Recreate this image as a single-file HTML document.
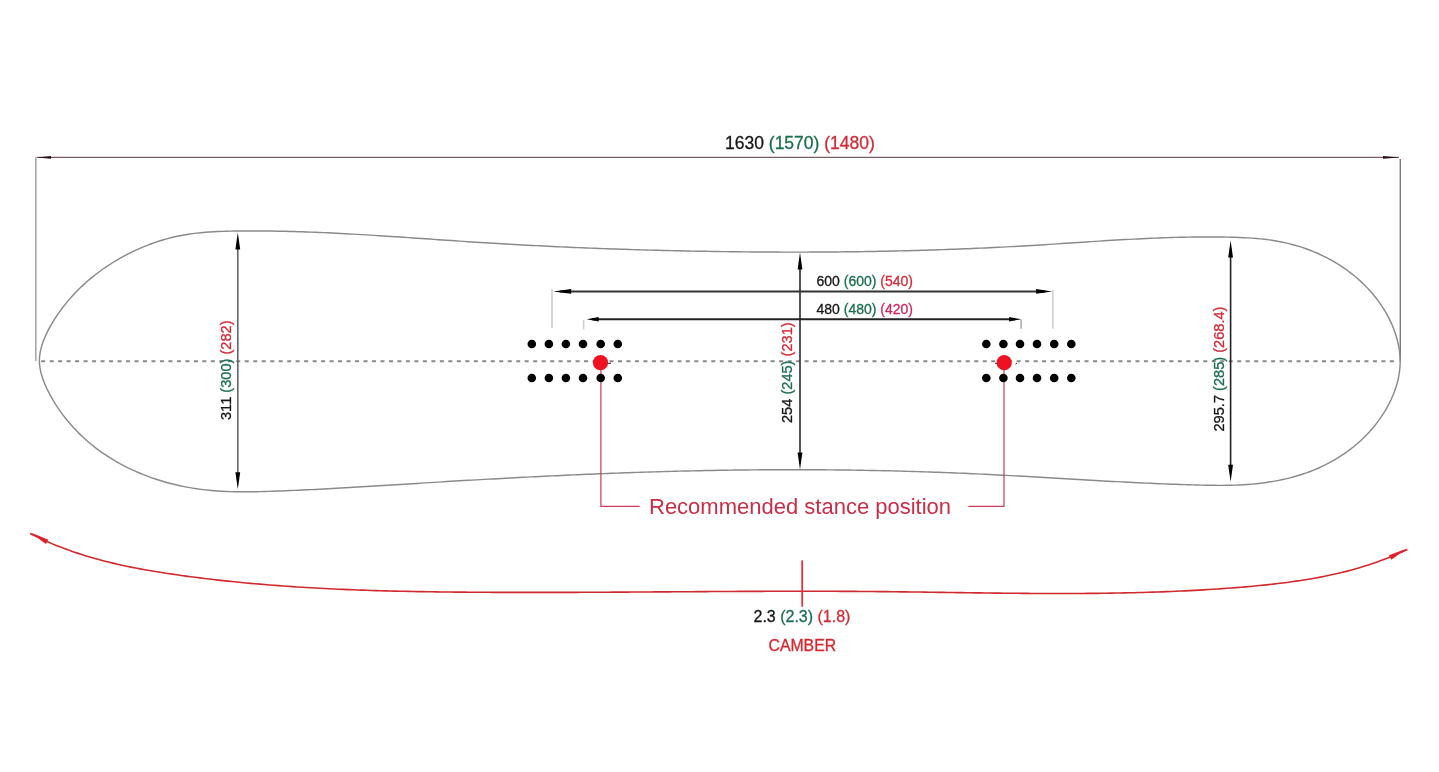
<!DOCTYPE html>
<html><head><meta charset="utf-8"><style>html,body{margin:0;padding:0;background:#fff;width:1439px;height:772px;overflow:hidden}svg{display:block;will-change:transform}</style></head>
<body><svg width="1439" height="772" viewBox="0 0 1439 772"><rect width="1439" height="772" fill="#fff"/><line x1="35.8" y1="157" x2="35.8" y2="361" stroke="#a8a8a8" stroke-width="1.6"/><line x1="1400.3" y1="159" x2="1400.3" y2="361" stroke="#7a7a7a" stroke-width="1.4"/><line x1="37" y1="157.4" x2="1399" y2="157.4" stroke="#7a5e64" stroke-width="1.4"/><path d="M37.00,157.40 L51.00,156.10 L51.00,158.70 Z" fill="#2a1015"/><path d="M1399.00,157.40 L1383.00,158.70 L1383.00,156.10 Z" fill="#2a1015"/><line x1="41.19" y1="361.25" x2="1395" y2="361.25" stroke="#8a8a8a" stroke-width="1.8" stroke-dasharray="4 4.4824"/><path d="M39.39,361.06 L39.55,356.97 L40.07,352.89 L40.92,348.81 L42.06,344.76 L43.47,340.74 L45.09,336.76 L46.90,332.83 L48.87,328.95 L50.97,325.14 L53.18,321.40 L55.50,317.73 L57.91,314.14 L60.39,310.63 L62.94,307.20 L65.57,303.86 L68.27,300.59 L71.03,297.39 L73.87,294.28 L76.77,291.24 L79.74,288.28 L82.77,285.39 L85.88,282.57 L89.04,279.82 L92.27,277.14 L95.56,274.54 L98.91,272.00 L102.32,269.52 L105.80,267.12 L109.33,264.77 L112.91,262.50 L116.55,260.29 L120.25,258.16 L123.99,256.09 L127.77,254.10 L131.60,252.18 L135.47,250.34 L139.38,248.58 L143.33,246.90 L147.31,245.30 L151.32,243.79 L155.36,242.36 L159.43,241.02 L163.51,239.77 L167.62,238.61 L171.75,237.55 L175.90,236.57 L180.05,235.70 L184.22,234.92 L188.40,234.24 L192.59,233.64 L196.79,233.13 L200.99,232.68 L205.20,232.31 L209.42,231.99 L213.64,231.74 L217.87,231.53 L222.10,231.36 L226.33,231.23 L230.57,231.13 L234.80,231.06 L239.04,231.01 L243.28,230.97 L247.51,230.94 L251.75,230.93 L255.99,230.94 L260.22,230.96 L264.46,230.99 L268.70,231.03 L272.93,231.09 L277.17,231.16 L281.41,231.24 L285.64,231.33 L289.88,231.44 L294.12,231.55 L298.35,231.68 L302.59,231.82 L306.83,231.96 L311.06,232.12 L315.30,232.28 L319.53,232.46 L323.77,232.64 L328.01,232.84 L332.24,233.04 L336.48,233.24 L340.72,233.46 L344.95,233.68 L349.19,233.91 L353.43,234.15 L357.66,234.39 L361.90,234.63 L366.14,234.89 L370.37,235.14 L374.61,235.40 L378.85,235.67 L383.08,235.94 L387.32,236.22 L391.56,236.49 L395.79,236.77 L400.03,237.06 L404.27,237.34 L408.50,237.63 L412.74,237.92 L416.98,238.21 L421.21,238.50 L425.45,238.79 L429.69,239.08 L433.93,239.37 L438.16,239.67 L442.40,239.96 L446.64,240.25 L450.87,240.54 L455.11,240.82 L459.35,241.11 L463.59,241.39 L467.82,241.67 L472.06,241.95 L476.30,242.22 L480.54,242.49 L484.78,242.75 L489.01,243.02 L493.25,243.27 L497.49,243.53 L501.73,243.78 L505.97,244.02 L510.20,244.26 L514.44,244.50 L518.68,244.73 L522.92,244.96 L527.16,245.19 L531.40,245.41 L535.63,245.63 L539.87,245.84 L544.11,246.06 L548.35,246.26 L552.59,246.46 L556.83,246.66 L561.07,246.86 L565.31,247.05 L569.55,247.24 L573.78,247.42 L578.02,247.60 L582.26,247.78 L586.50,247.95 L590.74,248.12 L594.98,248.29 L599.22,248.45 L603.46,248.61 L607.70,248.76 L611.94,248.91 L616.18,249.06 L620.42,249.20 L624.66,249.34 L628.90,249.48 L633.14,249.61 L637.38,249.74 L641.62,249.86 L645.86,249.99 L650.10,250.11 L654.35,250.22 L658.59,250.33 L662.83,250.44 L667.07,250.55 L671.31,250.65 L675.55,250.74 L679.79,250.84 L684.03,250.93 L688.27,251.02 L692.51,251.10 L696.76,251.18 L701.00,251.26 L705.24,251.33 L709.48,251.40 L713.72,251.47 L717.96,251.54 L722.21,251.60 L726.45,251.65 L730.69,251.71 L734.93,251.76 L739.18,251.81 L743.42,251.85 L747.66,251.89 L751.90,251.93 L756.15,251.96 L760.39,252.00 L764.63,252.02 L768.87,252.05 L773.12,252.07 L777.36,252.08 L781.60,252.10 L785.84,252.11 L790.09,252.11 L794.33,252.11 L798.57,252.11 L802.82,252.11 L807.06,252.10 L811.30,252.09 L815.55,252.07 L819.79,252.05 L824.03,252.02 L828.27,252.00 L832.52,251.96 L836.76,251.93 L841.00,251.89 L845.25,251.84 L849.49,251.79 L853.73,251.74 L857.97,251.69 L862.22,251.63 L866.46,251.56 L870.70,251.49 L874.95,251.42 L879.19,251.34 L883.43,251.26 L887.67,251.17 L891.92,251.08 L896.16,250.99 L900.40,250.89 L904.64,250.78 L908.88,250.67 L913.13,250.56 L917.37,250.44 L921.61,250.32 L925.85,250.20 L930.09,250.06 L934.33,249.93 L938.57,249.79 L942.82,249.64 L947.06,249.49 L951.30,249.34 L955.54,249.18 L959.78,249.01 L964.02,248.84 L968.26,248.67 L972.50,248.49 L976.74,248.31 L980.98,248.12 L985.22,247.92 L989.46,247.72 L993.70,247.52 L997.94,247.31 L1002.18,247.10 L1006.42,246.88 L1010.65,246.65 L1014.89,246.42 L1019.13,246.19 L1023.37,245.95 L1027.61,245.70 L1031.84,245.45 L1036.08,245.19 L1040.32,244.93 L1044.56,244.67 L1048.79,244.40 L1053.03,244.13 L1057.27,243.85 L1061.50,243.58 L1065.74,243.30 L1069.98,243.02 L1074.21,242.74 L1078.45,242.46 L1082.68,242.19 L1086.92,241.91 L1091.16,241.64 L1095.39,241.37 L1099.63,241.10 L1103.86,240.83 L1108.10,240.57 L1112.34,240.32 L1116.57,240.07 L1120.81,239.82 L1125.05,239.58 L1129.28,239.35 L1133.52,239.12 L1137.76,238.91 L1141.99,238.70 L1146.23,238.50 L1150.47,238.31 L1154.70,238.13 L1158.94,237.96 L1163.18,237.80 L1167.42,237.65 L1171.66,237.52 L1175.90,237.40 L1180.13,237.29 L1184.37,237.19 L1188.61,237.11 L1192.85,237.05 L1197.09,237.00 L1201.33,236.96 L1205.57,236.94 L1209.82,236.94 L1214.06,236.96 L1218.30,237.00 L1222.54,237.05 L1226.79,237.12 L1231.03,237.22 L1235.27,237.33 L1239.52,237.48 L1243.76,237.66 L1247.99,237.88 L1252.22,238.15 L1256.45,238.47 L1260.67,238.86 L1264.88,239.32 L1269.08,239.85 L1273.26,240.47 L1277.44,241.18 L1281.60,241.98 L1285.74,242.87 L1289.87,243.86 L1293.97,244.95 L1298.05,246.13 L1302.10,247.41 L1306.11,248.79 L1310.10,250.27 L1314.05,251.84 L1317.95,253.52 L1321.82,255.29 L1325.64,257.16 L1329.42,259.14 L1333.14,261.21 L1336.81,263.39 L1340.42,265.66 L1343.98,268.04 L1347.47,270.52 L1350.89,273.10 L1354.24,275.77 L1357.52,278.54 L1360.70,281.40 L1363.81,284.34 L1366.82,287.38 L1369.73,290.50 L1372.55,293.71 L1375.25,296.99 L1377.85,300.36 L1380.33,303.80 L1382.70,307.32 L1384.93,310.92 L1387.04,314.59 L1389.02,318.32 L1390.86,322.13 L1392.55,326.00 L1394.10,329.93 L1395.50,333.93 L1396.74,337.98 L1397.81,342.09 L1398.70,346.25 L1399.39,350.43 L1399.88,354.64 L1400.14,358.85 L1400.17,363.07 L1399.95,367.29 L1399.51,371.49 L1398.85,375.67 L1397.99,379.83 L1396.92,383.95 L1395.67,388.03 L1394.24,392.07 L1392.65,396.05 L1390.90,399.97 L1389.00,403.82 L1386.97,407.60 L1384.81,411.30 L1382.54,414.92 L1380.15,418.45 L1377.66,421.89 L1375.06,425.24 L1372.36,428.51 L1369.55,431.68 L1366.66,434.77 L1363.67,437.77 L1360.59,440.67 L1357.43,443.49 L1354.19,446.21 L1350.87,448.84 L1347.47,451.37 L1344.00,453.82 L1340.47,456.16 L1336.87,458.41 L1333.21,460.57 L1329.50,462.63 L1325.73,464.59 L1321.91,466.45 L1318.05,468.22 L1314.14,469.88 L1310.19,471.45 L1306.21,472.92 L1302.19,474.29 L1298.14,475.56 L1294.06,476.75 L1289.95,477.85 L1285.82,478.86 L1281.67,479.78 L1277.50,480.63 L1273.31,481.39 L1269.10,482.08 L1264.88,482.70 L1260.66,483.24 L1256.42,483.72 L1252.19,484.12 L1247.95,484.47 L1243.70,484.75 L1239.46,484.97 L1235.22,485.14 L1230.99,485.26 L1226.75,485.34 L1222.51,485.37 L1218.27,485.37 L1214.03,485.34 L1209.79,485.28 L1205.56,485.21 L1201.32,485.11 L1197.08,485.00 L1192.85,484.88 L1188.61,484.76 L1184.37,484.62 L1180.14,484.48 L1175.90,484.33 L1171.66,484.18 L1167.43,484.02 L1163.19,483.85 L1158.95,483.67 L1154.72,483.49 L1150.48,483.30 L1146.24,483.11 L1142.01,482.91 L1137.77,482.71 L1133.53,482.51 L1129.30,482.29 L1125.06,482.08 L1120.82,481.86 L1116.58,481.64 L1112.35,481.41 L1108.11,481.18 L1103.87,480.95 L1099.64,480.71 L1095.40,480.48 L1091.16,480.24 L1086.93,479.99 L1082.69,479.75 L1078.45,479.51 L1074.22,479.26 L1069.98,479.02 L1065.74,478.77 L1061.50,478.52 L1057.27,478.27 L1053.03,478.03 L1048.79,477.78 L1044.55,477.53 L1040.32,477.29 L1036.08,477.04 L1031.84,476.80 L1027.60,476.56 L1023.36,476.32 L1019.12,476.09 L1014.89,475.85 L1010.65,475.62 L1006.41,475.39 L1002.17,475.17 L997.93,474.95 L993.69,474.73 L989.45,474.51 L985.21,474.31 L980.97,474.10 L976.74,473.90 L972.50,473.70 L968.26,473.51 L964.02,473.33 L959.78,473.15 L955.53,472.97 L951.29,472.80 L947.05,472.63 L942.81,472.47 L938.57,472.31 L934.33,472.16 L930.09,472.01 L925.85,471.87 L921.61,471.73 L917.37,471.60 L913.13,471.47 L908.88,471.35 L904.64,471.23 L900.40,471.11 L896.16,471.00 L891.92,470.89 L887.67,470.79 L883.43,470.70 L879.19,470.60 L874.95,470.52 L870.71,470.43 L866.46,470.35 L862.22,470.28 L857.98,470.21 L853.74,470.14 L849.49,470.08 L845.25,470.03 L841.01,469.98 L836.77,469.93 L832.52,469.88 L828.28,469.85 L824.04,469.81 L819.79,469.78 L815.55,469.76 L811.31,469.73 L807.07,469.72 L802.82,469.70 L798.58,469.70 L794.34,469.69 L790.09,469.69 L785.85,469.70 L781.61,469.71 L777.37,469.72 L773.12,469.74 L768.88,469.76 L764.64,469.78 L760.39,469.81 L756.15,469.85 L751.91,469.89 L747.67,469.93 L743.42,469.97 L739.18,470.02 L734.94,470.08 L730.70,470.14 L726.45,470.20 L722.21,470.27 L717.97,470.34 L713.73,470.41 L709.48,470.49 L705.24,470.57 L701.00,470.66 L696.76,470.75 L692.52,470.85 L688.27,470.94 L684.03,471.05 L679.79,471.15 L675.55,471.26 L671.31,471.37 L667.07,471.49 L662.82,471.61 L658.58,471.73 L654.34,471.86 L650.10,471.99 L645.86,472.12 L641.62,472.26 L637.38,472.40 L633.14,472.54 L628.90,472.69 L624.65,472.84 L620.41,473.00 L616.17,473.15 L611.93,473.31 L607.69,473.47 L603.45,473.64 L599.21,473.81 L594.97,473.98 L590.73,474.16 L586.49,474.33 L582.25,474.51 L578.01,474.70 L573.77,474.88 L569.53,475.07 L565.29,475.26 L561.05,475.46 L556.81,475.66 L552.58,475.85 L548.34,476.06 L544.10,476.26 L539.86,476.47 L535.62,476.68 L531.38,476.89 L527.14,477.11 L522.90,477.32 L518.67,477.54 L514.43,477.76 L510.19,477.99 L505.95,478.21 L501.71,478.44 L497.48,478.67 L493.24,478.91 L489.00,479.14 L484.76,479.38 L480.53,479.62 L476.29,479.86 L472.05,480.10 L467.82,480.34 L463.58,480.59 L459.34,480.84 L455.11,481.09 L450.87,481.34 L446.64,481.59 L442.40,481.85 L438.16,482.11 L433.93,482.37 L429.69,482.63 L425.46,482.89 L421.22,483.15 L416.99,483.41 L412.75,483.68 L408.52,483.94 L404.28,484.21 L400.05,484.48 L395.81,484.74 L391.58,485.01 L387.35,485.27 L383.11,485.53 L378.88,485.80 L374.64,486.06 L370.41,486.31 L366.17,486.57 L361.94,486.83 L357.70,487.08 L353.47,487.33 L349.23,487.57 L344.99,487.82 L340.76,488.06 L336.52,488.29 L332.29,488.53 L328.05,488.75 L323.81,488.98 L319.58,489.20 L315.34,489.41 L311.10,489.62 L306.86,489.82 L302.62,490.02 L298.38,490.21 L294.15,490.39 L289.91,490.57 L285.67,490.74 L281.43,490.91 L277.18,491.06 L272.94,491.21 L268.70,491.36 L264.46,491.49 L260.22,491.60 L255.97,491.70 L251.73,491.78 L247.49,491.82 L243.25,491.84 L239.01,491.82 L234.77,491.76 L230.53,491.65 L226.30,491.50 L222.06,491.30 L217.83,491.04 L213.60,490.72 L209.37,490.33 L205.15,489.88 L200.93,489.36 L196.71,488.77 L192.51,488.11 L188.31,487.38 L184.13,486.59 L179.96,485.72 L175.81,484.77 L171.67,483.76 L167.56,482.68 L163.46,481.52 L159.39,480.29 L155.35,478.99 L151.33,477.61 L147.34,476.16 L143.38,474.64 L139.46,473.04 L135.57,471.36 L131.72,469.61 L127.90,467.78 L124.13,465.87 L120.39,463.89 L116.71,461.83 L113.06,459.69 L109.47,457.47 L105.92,455.17 L102.43,452.80 L98.99,450.34 L95.60,447.80 L92.27,445.18 L89.00,442.48 L85.80,439.69 L82.65,436.83 L79.57,433.88 L76.57,430.86 L73.63,427.76 L70.77,424.59 L68.00,421.34 L65.30,418.02 L62.70,414.63 L60.18,411.18 L57.75,407.65 L55.43,404.06 L53.20,400.41 L51.07,396.69 L49.05,392.92 L47.14,389.08 L45.35,385.19 L43.73,381.25 L42.30,377.27 L41.11,373.25 L40.21,369.20 L39.62,365.14 L39.39,361.06 Z" fill="none" stroke="#8a8a8a" stroke-width="1.45"/><line x1="237.8" y1="240.5" x2="237.8" y2="481.3" stroke="#666" stroke-width="1.6"/><path d="M237.80,232.50 L240.20,249.50 L235.40,249.50 Z" fill="#000"/><path d="M237.80,489.30 L235.40,472.30 L240.20,472.30 Z" fill="#000"/><line x1="800.0" y1="260.5" x2="800.0" y2="461.5" stroke="#2a2a2a" stroke-width="1.6"/><path d="M800.00,252.50 L802.40,269.50 L797.60,269.50 Z" fill="#000"/><path d="M800.00,469.50 L797.60,452.50 L802.40,452.50 Z" fill="#000"/><line x1="1230.6" y1="248.5" x2="1230.6" y2="473.7" stroke="#222" stroke-width="1.6"/><path d="M1230.60,240.50 L1233.00,257.50 L1228.20,257.50 Z" fill="#000"/><path d="M1230.60,481.70 L1228.20,464.70 L1233.00,464.70 Z" fill="#000"/><line x1="552" y1="289" x2="552" y2="328" stroke="#cfcfcf" stroke-width="1.6"/><line x1="1052.8" y1="290" x2="1052.8" y2="328.7" stroke="#cfcfcf" stroke-width="1.6"/><line x1="583.6" y1="320" x2="583.6" y2="329.5" stroke="#cfcfcf" stroke-width="1.6"/><line x1="1021.1" y1="319.5" x2="1021.1" y2="328.7" stroke="#b0b0b0" stroke-width="1.6"/><line x1="560" y1="291.4" x2="1045" y2="291.4" stroke="#333" stroke-width="2"/><path d="M553.20,291.40 L571.20,289.00 L571.20,293.80 Z" fill="#000"/><path d="M1052.20,291.40 L1036.20,293.80 L1036.20,289.00 Z" fill="#000"/><line x1="592" y1="319.2" x2="1015" y2="319.2" stroke="#222" stroke-width="2"/><path d="M586.70,319.20 L598.70,317.00 L598.70,321.40 Z" fill="#000"/><path d="M1021.10,319.20 L1009.10,321.40 L1009.10,317.00 Z" fill="#000"/><polyline points="600.9,370 600.9,506.3 639.6,506.3" fill="none" stroke="#c83e5a" stroke-width="1.2"/><polyline points="968.4,506.3 1004,506.3 1004,370" fill="none" stroke="#c83e5a" stroke-width="1.2"/><circle cx="531.8" cy="344" r="4.3" fill="#000"/><circle cx="531.8" cy="378" r="4.3" fill="#000"/><circle cx="548.9" cy="344" r="4.3" fill="#000"/><circle cx="548.9" cy="378" r="4.3" fill="#000"/><circle cx="565.9" cy="344" r="4.3" fill="#000"/><circle cx="565.9" cy="378" r="4.3" fill="#000"/><circle cx="583" cy="344" r="4.3" fill="#000"/><circle cx="583" cy="378" r="4.3" fill="#000"/><circle cx="600.7" cy="344" r="4.3" fill="#000"/><circle cx="600.7" cy="378" r="4.3" fill="#000"/><circle cx="617.8" cy="344" r="4.3" fill="#000"/><circle cx="617.8" cy="378" r="4.3" fill="#000"/><circle cx="986.3" cy="344" r="4.3" fill="#000"/><circle cx="986.3" cy="378" r="4.3" fill="#000"/><circle cx="1003.4" cy="344" r="4.3" fill="#000"/><circle cx="1003.4" cy="378" r="4.3" fill="#000"/><circle cx="1020" cy="344" r="4.3" fill="#000"/><circle cx="1020" cy="378" r="4.3" fill="#000"/><circle cx="1037" cy="344" r="4.3" fill="#000"/><circle cx="1037" cy="378" r="4.3" fill="#000"/><circle cx="1054.2" cy="344" r="4.3" fill="#000"/><circle cx="1054.2" cy="378" r="4.3" fill="#000"/><circle cx="1071.3" cy="344" r="4.3" fill="#000"/><circle cx="1071.3" cy="378" r="4.3" fill="#000"/><circle cx="600.5" cy="362.7" r="7.6" fill="#ee1122"/><line x1="608" y1="363.3" x2="611" y2="363.3" stroke="#222" stroke-width="1"/><line x1="995" y1="363.3" x2="997.5" y2="363.3" stroke="#222" stroke-width="1"/><line x1="1015.5" y1="364" x2="1017" y2="363" stroke="#222" stroke-width="1"/><circle cx="1004.2" cy="362.7" r="7.6" fill="#ee1122"/><path d="M30.07,533.45 L34.26,535.58 L38.48,537.63 L42.71,539.61 L46.97,541.52 L51.25,543.37 L55.55,545.15 L59.86,546.86 L64.20,548.52 L68.55,550.11 L72.92,551.65 L77.31,553.13 L81.72,554.55 L86.14,555.93 L90.57,557.25 L95.02,558.52 L99.48,559.74 L103.96,560.92 L108.45,562.05 L112.95,563.14 L117.46,564.19 L121.98,565.19 L126.51,566.16 L131.06,567.10 L135.61,568.00 L140.16,568.86 L144.73,569.70 L149.30,570.51 L153.88,571.28 L158.46,572.04 L163.05,572.77 L167.65,573.47 L172.24,574.16 L176.84,574.82 L181.45,575.47 L186.05,576.10 L190.66,576.72 L195.26,577.32 L199.88,577.90 L204.49,578.47 L209.10,579.03 L213.72,579.56 L218.33,580.09 L222.95,580.60 L227.57,581.09 L232.20,581.57 L236.82,582.04 L241.45,582.49 L246.07,582.93 L250.70,583.36 L255.33,583.77 L259.96,584.17 L264.59,584.56 L269.23,584.93 L273.86,585.30 L278.50,585.65 L283.14,585.99 L287.78,586.31 L292.42,586.63 L297.06,586.93 L301.70,587.23 L306.34,587.51 L310.99,587.78 L315.63,588.04 L320.28,588.29 L324.92,588.54 L329.57,588.77 L334.22,588.99 L338.87,589.20 L343.52,589.41 L348.17,589.60 L352.82,589.79 L357.47,589.96 L362.12,590.13 L366.78,590.29 L371.43,590.45 L376.08,590.59 L380.74,590.73 L385.39,590.86 L390.05,590.98 L394.70,591.10 L399.36,591.21 L404.01,591.31 L408.67,591.41 L413.32,591.50 L417.98,591.59 L422.64,591.67 L427.29,591.74 L431.95,591.81 L436.60,591.88 L441.26,591.94 L445.92,591.99 L450.57,592.04 L455.23,592.09 L459.88,592.13 L464.54,592.17 L469.19,592.20 L473.85,592.24 L478.50,592.27 L483.15,592.29 L487.81,592.32 L492.46,592.34 L497.11,592.36 L501.76,592.37 L506.41,592.38 L511.07,592.39 L515.72,592.40 L520.37,592.41 L525.02,592.41 L529.67,592.42 L534.31,592.41 L538.96,592.41 L543.61,592.41 L548.26,592.40 L552.91,592.39 L557.56,592.39 L562.20,592.37 L566.85,592.36 L571.50,592.35 L576.14,592.33 L580.79,592.31 L585.44,592.30 L590.08,592.28 L594.73,592.26 L599.37,592.23 L604.02,592.21 L608.66,592.19 L613.31,592.16 L617.95,592.14 L622.60,592.11 L627.24,592.09 L631.89,592.06 L636.53,592.03 L641.17,592.00 L645.82,591.97 L650.46,591.94 L655.11,591.92 L659.75,591.89 L664.39,591.86 L669.04,591.83 L673.68,591.80 L678.32,591.77 L682.97,591.74 L687.61,591.71 L692.25,591.68 L696.90,591.65 L701.54,591.62 L706.18,591.60 L710.83,591.57 L715.47,591.54 L720.11,591.52 L724.76,591.49 L729.40,591.47 L734.04,591.45 L738.69,591.42 L743.33,591.40 L747.97,591.38 L752.62,591.37 L757.26,591.35 L761.90,591.33 L766.55,591.32 L771.19,591.31 L775.84,591.29 L780.48,591.28 L785.13,591.28 L789.77,591.27 L794.42,591.27 L799.06,591.26 L803.71,591.26 L808.35,591.26 L813.00,591.27 L817.65,591.27 L822.29,591.28 L826.94,591.29 L831.59,591.31 L836.23,591.32 L840.88,591.34 L845.53,591.36 L850.18,591.38 L854.82,591.41 L859.47,591.44 L864.12,591.47 L868.77,591.50 L873.42,591.54 L878.07,591.58 L882.72,591.63 L887.37,591.67 L892.02,591.72 L896.67,591.77 L901.32,591.83 L905.98,591.89 L910.63,591.95 L915.28,592.01 L919.93,592.07 L924.59,592.13 L929.24,592.20 L933.89,592.26 L938.55,592.33 L943.20,592.39 L947.85,592.46 L952.51,592.53 L957.16,592.59 L961.82,592.66 L966.47,592.72 L971.13,592.79 L975.78,592.85 L980.44,592.91 L985.09,592.97 L989.75,593.03 L994.40,593.08 L999.06,593.14 L1003.71,593.19 L1008.37,593.23 L1013.02,593.28 L1017.67,593.32 L1022.33,593.36 L1026.98,593.39 L1031.64,593.43 L1036.29,593.45 L1040.95,593.48 L1045.60,593.49 L1050.26,593.51 L1054.91,593.52 L1059.56,593.52 L1064.22,593.52 L1068.87,593.51 L1073.52,593.49 L1078.18,593.48 L1082.83,593.45 L1087.48,593.42 L1092.14,593.38 L1096.79,593.33 L1101.44,593.28 L1106.09,593.22 L1110.74,593.15 L1115.39,593.07 L1120.04,592.99 L1124.69,592.89 L1129.34,592.79 L1133.99,592.68 L1138.64,592.56 L1143.29,592.44 L1147.94,592.30 L1152.59,592.15 L1157.23,591.99 L1161.88,591.83 L1166.53,591.65 L1171.17,591.46 L1175.82,591.26 L1180.46,591.05 L1185.10,590.83 L1189.75,590.60 L1194.39,590.35 L1199.03,590.10 L1203.68,589.83 L1208.32,589.55 L1212.96,589.25 L1217.60,588.95 L1222.24,588.63 L1226.87,588.30 L1231.51,587.95 L1236.15,587.59 L1240.79,587.22 L1245.42,586.83 L1250.06,586.43 L1254.69,586.01 L1259.32,585.57 L1263.95,585.11 L1268.57,584.62 L1273.19,584.12 L1277.81,583.58 L1282.42,583.02 L1287.02,582.43 L1291.62,581.81 L1296.21,581.15 L1300.80,580.47 L1305.38,579.74 L1309.95,578.98 L1314.51,578.18 L1319.06,577.34 L1323.60,576.46 L1328.14,575.53 L1332.66,574.56 L1337.17,573.54 L1341.67,572.47 L1346.16,571.35 L1350.63,570.17 L1355.09,568.95 L1359.54,567.67 L1363.98,566.33 L1368.39,564.93 L1372.80,563.47 L1377.19,561.95 L1381.56,560.37 L1385.91,558.72 L1390.25,557.00 L1394.57,555.22 L1398.87,553.36 L1403.15,551.43 L1407.42,549.43" fill="none" stroke="#d02a2e" stroke-width="1.6"/><path d="M30.60,532.50 L48.34,539.76 L45.86,544.10 Z" fill="#e0202a"/><path d="M1406.90,548.50 L1391.30,559.64 L1388.95,555.22 Z" fill="#e0202a"/><line x1="802.2" y1="560.4" x2="802.2" y2="606.7" stroke="#e0343a" stroke-width="1.8"/><text x="725" y="148.8" font-size="17.5" font-family="Liberation Sans, sans-serif" stroke-width="0.3"><tspan fill="#161616" stroke="#161616">1630</tspan><tspan fill="#1c6e4f" stroke="#1c6e4f"> (1570)</tspan><tspan fill="#d02c38" stroke="#d02c38"> (1480)</tspan></text><text x="816.5" y="286.4" font-size="14" font-family="Liberation Sans, sans-serif" stroke-width="0.3"><tspan fill="#161616" stroke="#161616">600</tspan><tspan fill="#1c6e4f" stroke="#1c6e4f"> (600)</tspan><tspan fill="#d02c38" stroke="#d02c38"> (540)</tspan></text><text x="816.5" y="313.6" font-size="14" font-family="Liberation Sans, sans-serif" stroke-width="0.3"><tspan fill="#161616" stroke="#161616">480</tspan><tspan fill="#1c6e4f" stroke="#1c6e4f"> (480)</tspan><tspan fill="#cc2a5c" stroke="#cc2a5c"> (420)</tspan></text><text transform="translate(230.6,420) rotate(-90)" font-size="14.6" font-family="Liberation Sans, sans-serif" stroke-width="0.3"><tspan fill="#161616" stroke="#161616">311</tspan><tspan fill="#1c6e4f" stroke="#1c6e4f"> (300)</tspan><tspan fill="#d02c38" stroke="#d02c38"> (282)</tspan></text><text transform="translate(792,423) rotate(-90)" font-size="14.6" font-family="Liberation Sans, sans-serif" stroke-width="0.3"><tspan fill="#161616" stroke="#161616">254</tspan><tspan fill="#1c6e4f" stroke="#1c6e4f"> (245)</tspan><tspan fill="#d02c38" stroke="#d02c38"> (231)</tspan></text><text transform="translate(1224.4,431.5) rotate(-90)" font-size="14.6" font-family="Liberation Sans, sans-serif" stroke-width="0.3"><tspan fill="#161616" stroke="#161616">295.7</tspan><tspan fill="#1c6e4f" stroke="#1c6e4f"> (285)</tspan><tspan fill="#d02c38" stroke="#d02c38"> (268.4)</tspan></text><text x="649" y="513.6" font-size="22" fill="#c82e48" font-family="Liberation Sans, sans-serif">Recommended stance position</text><text x="753.5" y="622.3" font-size="16" font-family="Liberation Sans, sans-serif" stroke-width="0.3"><tspan fill="#161616" stroke="#161616">2.3</tspan><tspan fill="#1c6e4f" stroke="#1c6e4f"> (2.3)</tspan><tspan fill="#d02c38" stroke="#d02c38"> (1.8)</tspan></text><text x="768.5" y="650.7" font-size="15.8" fill="#d8262e" stroke="#d8262e" font-family="Liberation Sans, sans-serif" stroke-width="0.3">CAMBER</text></svg></body></html>
